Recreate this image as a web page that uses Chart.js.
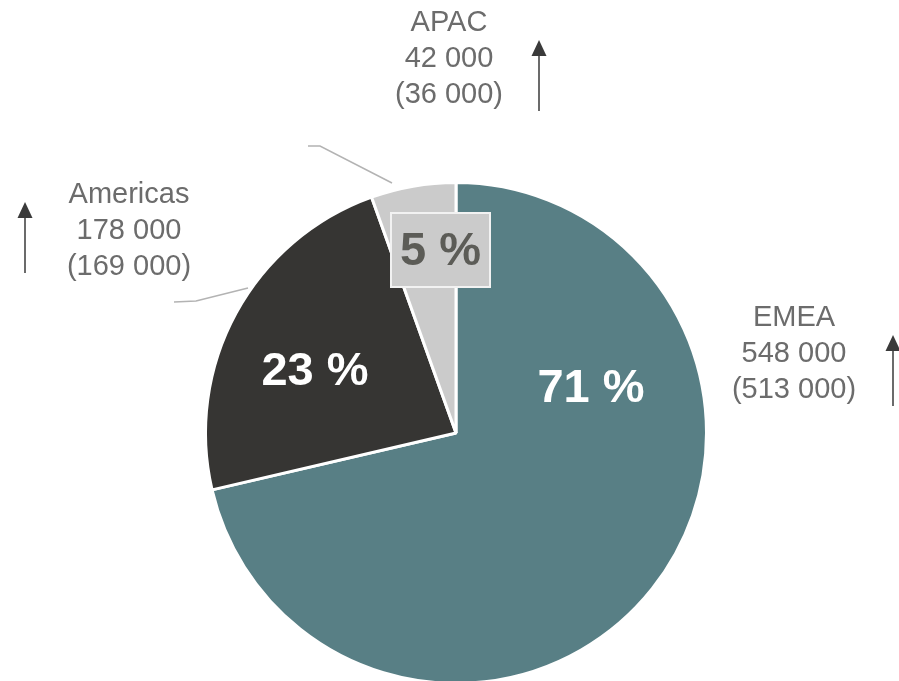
<!DOCTYPE html>
<html>
<head>
<meta charset="utf-8">
<script src="https://cdn.jsdelivr.net/npm/chart.js@4.4.1/dist/chart.umd.min.js"></script>
<style>
  html, body { margin: 0; padding: 0; background: #ffffff; overflow: hidden; }
  #wrap { width: 899px; height: 681px; overflow: hidden; position: relative; }
  canvas { display: block; }
</style>
</head>
<body>
<div id="wrap"><canvas id="c" width="899" height="720"></canvas></div>
<script>
// ---- Data ----
const regions = ["EMEA", "Americas", "APAC"];
const currentValues = [548000, 178000, 42000];
const previousValues = [513000, 169000, 36000];
const sliceColors = ["#587f85", "#363533", "#cbcbcb"];

function fmt(n) {
  return String(n).replace(/\B(?=(\d{3})+(?!\d))/g, " ");
}

const total = currentValues.reduce((a, b) => a + b, 0);
const percents = currentValues.map(v => Math.round(v / total * 100));

const labelPlugin = {
  id: "labelPlugin",
  afterDraw(chart) {
    const ctx = chart.ctx;
    const arc = chart.getDatasetMeta(0).data[0];
    const cx = arc.x, cy = arc.y;
    const textGray = "#6c6c6c";

    ctx.save();
    // Percent labels inside slices
    ctx.textAlign = "center";
    ctx.textBaseline = "middle";
    ctx.font = "bold 47px 'Liberation Sans', Arial, sans-serif";
    ctx.fillStyle = "#ffffff";
    ctx.fillText(percents[0] + " %", cx + 135, cy - 44);
    ctx.fillText(percents[1] + " %", cx - 141, cy - 61);

    // APAC percent box
    const bx = cx - 65, by = cy - 220, bw = 99, bh = 74;
    ctx.fillStyle = "#cbcbcb";
    ctx.fillRect(bx, by, bw, bh);
    ctx.strokeStyle = "#f2f2f2";
    ctx.lineWidth = 2;
    ctx.strokeRect(bx, by, bw, bh);
    ctx.fillStyle = "#5c5c57";
    ctx.fillText(percents[2] + " %", bx + bw / 2, by + bh / 2 + 2);

    // Leader lines
    ctx.strokeStyle = "#b3b3b3";
    ctx.lineWidth = 1.5;
    ctx.beginPath();
    ctx.moveTo(cx - 148, cy - 287);
    ctx.lineTo(cx - 136, cy - 287);
    ctx.lineTo(cx - 64, cy - 250);
    ctx.stroke();
    ctx.beginPath();
    ctx.moveTo(cx - 282, cy - 131);
    ctx.lineTo(cx - 260, cy - 132);
    ctx.lineTo(cx - 208, cy - 145);
    ctx.stroke();

    // Outside labels
    ctx.font = "29px 'Liberation Sans', Arial, sans-serif";
    ctx.fillStyle = textGray;
    const outside = [
      { x: cx + 338, y: cy - 115 },  // EMEA
      { x: cx - 327, y: cy - 238 },  // Americas
      { x: cx - 7, y: cy - 410 }     // APAC
    ];
    const arrows = [
      { x: cx + 437, top: cy - 98 },
      { x: cx - 431, top: cy - 231 },
      { x: cx + 83, top: cy - 393 }
    ];
    const lh = 36;
    for (let i = 0; i < regions.length; i++) {
      const o = outside[i];
      ctx.fillText(regions[i], o.x, o.y);
      ctx.fillText(fmt(currentValues[i]), o.x, o.y + lh);
      ctx.fillText("(" + fmt(previousValues[i]) + ")", o.x, o.y + 2 * lh);

      // up arrow (current above previous)
      if (currentValues[i] > previousValues[i]) {
        const a = arrows[i];
        ctx.strokeStyle = "#3a3a3a";
        ctx.fillStyle = "#3a3a3a";
        ctx.lineWidth = 1.5;
        ctx.beginPath();
        ctx.moveTo(a.x, a.top + 14);
        ctx.lineTo(a.x, a.top + 71);
        ctx.stroke();
        ctx.beginPath();
        ctx.moveTo(a.x, a.top);
        ctx.lineTo(a.x - 7.5, a.top + 16);
        ctx.lineTo(a.x + 7.5, a.top + 16);
        ctx.closePath();
        ctx.fill();
        ctx.fillStyle = textGray;
      }
    }
    ctx.restore();
  }
};

new Chart(document.getElementById("c"), {
  type: "pie",
  data: {
    labels: regions,
    datasets: [{
      data: currentValues,
      backgroundColor: sliceColors,
      borderColor: "#ffffff",
      borderWidth: 3
    }]
  },
  options: {
    responsive: false,
    animation: false,
    devicePixelRatio: 1,
    layout: { padding: { left: 204, right: 191, top: 180, bottom: 34 } },
    plugins: {
      legend: { display: false },
      tooltip: { enabled: false }
    }
  },
  plugins: [labelPlugin]
});
</script>
</body>
</html>
